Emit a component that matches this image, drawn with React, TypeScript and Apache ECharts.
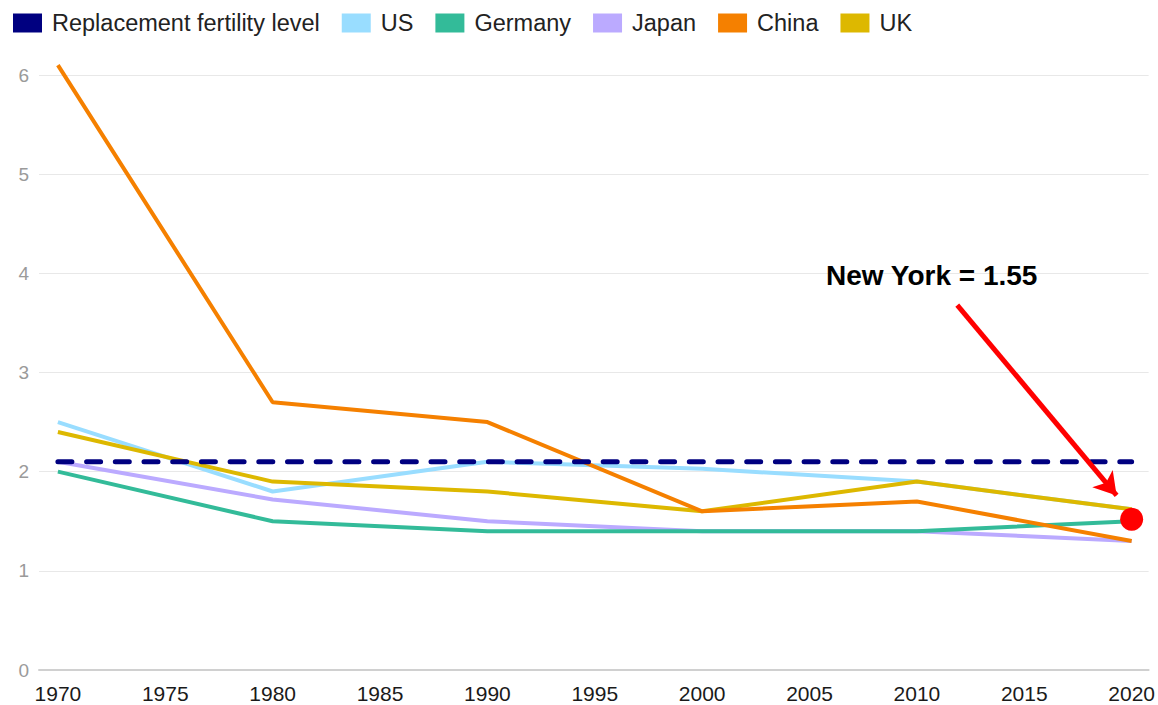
import React, { useEffect, useRef } from "react";
import * as echarts from "echarts";

const years = [1970, 1980, 1990, 2000, 2010, 2020];
const xTicks = [1970, 1975, 1980, 1985, 1990, 1995, 2000, 2005, 2010, 2015, 2020];
const replacement = [2.1, 2.1, 2.1, 2.1, 2.1, 2.1];
const us = [2.5, 1.8, 2.1, 2.03, 1.9, 1.62];
const germany = [2.0, 1.5, 1.4, 1.4, 1.4, 1.5];
const japan = [2.1, 1.72, 1.5, 1.4, 1.4, 1.3];
const china = [6.1, 2.7, 2.5, 1.6, 1.7, 1.3];
const uk = [2.4, 1.9, 1.8, 1.6, 1.9, 1.62];

const legendNames = ["Replacement fertility level", "US", "Germany", "Japan", "China", "UK"];

const nyPoint = [2020, 1.52];
const arrowFrom = [2011.88, 3.68];
const arrowTo = [2019.3, 1.76];
const labelAt = [2010.69, 3.98];

const pair = (vals: number[]) => years.map((y, i) => [y, vals[i]]);

const FONT = "'Liberation Sans', Arial, sans-serif";

export default function App() {
  const ref = useRef<HTMLDivElement>(null);
  useEffect(() => {
    document.body.style.margin = "0";
    const chart = echarts.init(ref.current!, undefined, { renderer: "svg" });
    const line = (name: string, vals: number[], color: string, extra: any = {}) => ({
      name,
      type: "line",
      data: pair(vals),
      symbol: "none",
      clip: false,
      lineStyle: { color, width: 4 },
      itemStyle: { color },
      ...extra,
    });
    chart.setOption({
      animation: false,
      textStyle: { fontFamily: FONT },
      grid: { left: 39, right: 6, top: 75, bottom: 35 },
      legend: {
        data: legendNames,
        left: 13,
        top: 11,
        padding: 0,
        icon: "rect",
        itemWidth: 29,
        itemHeight: 19,
        itemGap: 22,
        itemStyle: { borderWidth: 0 },
        textStyle: { fontSize: 23.5, color: "#222", fontFamily: FONT, padding: [0, 0, 0, 5] },
      },
      xAxis: {
        type: "value",
        min: 1969.12,
        max: 2020.79,
        axisLine: { show: true, lineStyle: { color: "#d0d0d0", width: 2 } },
        axisTick: { show: false },
        splitLine: { show: false },
        axisLabel: {
          customValues: xTicks,
          fontSize: 21,
          color: "#1a1a1a",
          margin: 13,
          fontFamily: FONT,
          formatter: (v: number) => String(v),
        },
      },
      yAxis: {
        type: "value",
        min: 0,
        max: 6,
        interval: 1,
        axisLine: { show: false },
        axisTick: { show: false },
        splitLine: { lineStyle: { color: "#e8e8e8", width: 1 } },
        axisLabel: { fontSize: 19, color: "#9a9a9a", margin: 10, fontFamily: FONT },
      },
      series: [
        line("US", us, "#99DDFF"),
        line("Japan", japan, "#BBAAFF"),
        line("Germany", germany, "#33BB99"),
        line("UK", uk, "#DDB800"),
        line("China", china, "#F58000"),
        line("Replacement fertility level", replacement, "#000080", {
          z: 3,
          lineStyle: { color: "#000080", width: 5, type: [14, 14.7], cap: "round" },
        }),
        {
          name: "New York",
          type: "scatter",
          data: [nyPoint],
          symbolSize: 23,
          itemStyle: { color: "#FF0000", opacity: 1 },
          z: 10,
          markLine: {
            silent: true,
            symbol: ["none", "arrow"],
            symbolSize: [20, 22],
            label: { show: false },
            lineStyle: { color: "#FF0000", width: 5, type: "solid", opacity: 1 },
            data: [[{ coord: arrowFrom }, { coord: arrowTo }]],
          },
          markPoint: {
            silent: true,
            symbol: "rect",
            symbolSize: 1,
            itemStyle: { color: "rgba(0,0,0,0)" },
            label: {
              show: true,
              position: "inside",
              formatter: "New York = 1.55",
              fontSize: 28,
              fontWeight: "bold",
              color: "#000",
              fontFamily: FONT,
            },
            data: [{ coord: labelAt }],
          },
        },
      ],
    });
    return () => chart.dispose();
  }, []);
  return <div ref={ref} style={{ width: 1158, height: 705 }} />;
}
